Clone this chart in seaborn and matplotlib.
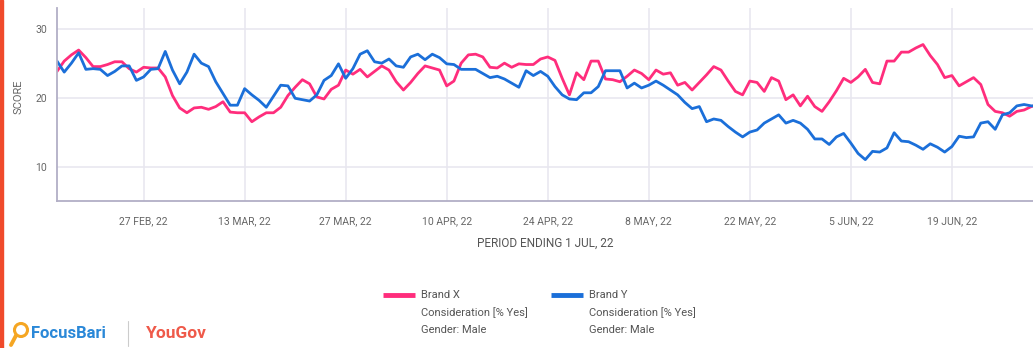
import matplotlib
matplotlib.use("Agg")
import matplotlib.pyplot as plt
import matplotlib.dates as mdates
from matplotlib.lines import Line2D
from matplotlib.patches import Rectangle, Ellipse
import numpy as np
import pandas as pd
import seaborn as sns

# ---------------- data ----------------
start_date = "2022-02-15"
brand_x = [23.8, 25.3, 26.2, 26.9, 25.8, 24.5, 24.5, 24.8, 25.2, 25.2, 24.2, 23.7,
           24.4, 24.3, 24.3, 23.0, 20.3, 18.5, 17.8, 18.5, 18.6, 18.3, 18.7, 19.4,
           17.9, 17.8, 17.8, 16.5, 17.2, 17.8, 17.8, 18.6, 20.3, 21.5, 22.6, 22.0,
           20.1, 19.8, 21.2, 21.8, 24.0, 23.4, 24.1, 23.0, 23.8, 24.6, 24.0, 22.3,
           21.1, 22.2, 23.5, 24.6, 24.3, 24.0, 21.7, 22.4, 25.0, 26.2, 26.3, 25.9,
           24.4, 24.3, 25.0, 24.4, 24.9, 24.8, 24.8, 25.6, 25.9, 25.4, 22.8, 20.4,
           23.6, 22.6, 25.3, 25.3, 22.7, 22.6, 22.3, 23.1, 24.0, 23.5, 22.6, 24.0,
           23.4, 23.6, 21.8, 22.2, 21.1, 22.2, 23.3, 24.5, 24.0, 22.4, 20.9, 20.4,
           22.4, 22.2, 20.9, 22.9, 22.4, 19.7, 20.4, 18.8, 20.2, 18.7, 18.0, 19.4,
           21.0, 22.8, 22.2, 23.0, 24.1, 22.2, 22.0, 25.3, 25.3, 26.6, 26.6, 27.2,
           27.7, 26.1, 24.8, 22.9, 23.2, 21.7, 22.3, 22.9, 21.9, 19.0, 18.0, 17.8,
           17.3, 18.0, 18.2, 18.7, 19.0]
brand_y = [25.3, 23.7, 25.0, 26.5, 24.1, 24.2, 24.1, 23.2, 23.8, 24.6, 24.6, 22.5,
           23.0, 24.1, 24.2, 26.7, 24.0, 22.0, 23.7, 26.3, 25.0, 24.5, 22.3, 20.6,
           18.9, 18.9, 21.3, 20.4, 19.6, 18.6, 20.2, 21.8, 21.7, 19.9, 19.7, 19.5,
           20.4, 22.5, 23.2, 24.9, 22.8, 24.2, 26.3, 26.8, 25.2, 25.0, 25.6, 24.6,
           24.4, 25.9, 26.3, 25.5, 26.3, 25.8, 24.9, 24.8, 24.1, 24.1, 24.1, 23.5,
           22.9, 23.1, 22.7, 22.1, 21.5, 23.9, 23.2, 23.8, 23.1, 21.6, 20.4, 19.8,
           19.7, 20.7, 20.7, 21.6, 23.9, 23.9, 23.9, 21.4, 22.1, 21.4, 21.8, 22.4,
           21.8, 21.1, 20.4, 19.3, 18.4, 18.7, 16.5, 16.9, 16.7, 15.8, 15.0, 14.3,
           15.0, 15.3, 16.3, 16.9, 17.5, 16.3, 16.7, 16.3, 15.4, 14.0, 14.0, 13.2,
           14.3, 14.8, 13.4, 11.9, 11.0, 12.2, 12.1, 12.7, 14.9, 13.7, 13.6, 13.1,
           12.5, 13.3, 12.8, 12.1, 12.9, 14.4, 14.2, 14.3, 16.3, 16.5, 15.4, 17.5,
           17.8, 18.8, 19.0, 18.8, 18.8]
series_names = ["Brand X", "Brand Y"]
series_colors = ["#FF2D7C", "#1B6FD9"]
legend_sub = ["Consideration [% Yes]", "Gender: Male"]
tick_dates = ["2022-02-27", "2022-03-13", "2022-03-27", "2022-04-10", "2022-04-24",
              "2022-05-08", "2022-05-22", "2022-06-05", "2022-06-19"]
y_ticks = [10, 20, 30]
x_title = "PERIOD ENDING 1 JUL, 22"
y_title = "SCORE"

dates = pd.date_range(start_date, periods=len(brand_x), freq="D")
df = pd.DataFrame({
    "date": np.concatenate([dates, dates]),
    "score": brand_x + brand_y,
    "brand": [series_names[0]] * len(brand_x) + [series_names[1]] * len(brand_y),
})

# ---------------- style ----------------
sns.set_theme(style="white")
plt.rcParams["font.family"] = ["Roboto", "DejaVu Sans"]

W, H = 1033, 348
fig = plt.figure(figsize=(W / 100, H / 100), dpi=100)
fig.patch.set_facecolor("white")
ax = fig.add_axes([57 / W, 147 / H, 981.5 / W, 193 / H])

sns.lineplot(data=df, x="date", y="score", hue="brand", palette=series_colors,
             hue_order=series_names, linewidth=2.0, legend=False, ax=ax,
             estimator=None)

ax.set_xlim(dates[0], dates[-1])
ax.set_ylim(5, 33)
ax.set_yticks(y_ticks)
ax.set_xticks(pd.to_datetime(tick_dates))
ax.xaxis.set_major_formatter(
    matplotlib.ticker.FuncFormatter(
        lambda v, p: (lambda d: f"{d.day} {d.strftime('%b').upper()}, {d.strftime('%y')}")(mdates.num2date(v))))

grid_c = "#E7E6EF"
ax.grid(True, color=grid_c, linewidth=1.1)
ax.set_axisbelow(True)
for s in ["top", "right"]:
    ax.spines[s].set_visible(False)
for s in ["left", "bottom"]:
    ax.spines[s].set_color("#B2AFC6")
    ax.spines[s].set_linewidth(1.3)
ax.tick_params(axis="both", which="major", length=4, width=1, color="#B2AFC6",
               labelsize=7.5, labelcolor="#666666", pad=7)
ax.tick_params(axis="y", pad=3)

ax.set_xlabel(x_title, fontsize=8.5, color="#555555")
ax.xaxis.set_label_coords((545 - 57) / 981.5, (201 - 243) / 193)
ax.xaxis.label.set_verticalalignment("center")
ax.set_ylabel(y_title, fontsize=8, color="#666666")
ax.yaxis.set_label_coords((18 - 57) / 981.5, (201 - 97) / 193)
ax.yaxis.label.set_verticalalignment("center")

# ---------------- legend (manual, below plot) ----------------
def fx(px):
    return px / W

def fy(py):
    return 1 - py / H

for i, (name, col) in enumerate(zip(series_names, series_colors)):
    x0 = 383 + i * 168
    fig.add_artist(Line2D([fx(x0), fx(x0 + 32)], [fy(295), fy(295)],
                          color=col, linewidth=3.5, solid_capstyle="butt"))
    fig.text(fx(x0 + 38), fy(295), name, fontsize=8, color="#555555", va="center",
             ha="left")
    for j, sub in enumerate(legend_sub):
        fig.text(fx(x0 + 38), fy(313 + j * 17), sub, fontsize=8, color="#555555",
                 va="center", ha="left")

# ---------------- logos ----------------
fig.patches.append(Rectangle((0, 0), 2.5 / W, 1, transform=fig.transFigure,
                             color="#F04A2B", zorder=10))
# magnifier icon
r = 6.5
fig.patches.append(Ellipse((fx(21), fy(330)), 2 * r / W, 2 * r / H,
                           transform=fig.transFigure, fill=False,
                           edgecolor="#F5A623", linewidth=2.2))
fig.add_artist(Line2D([fx(16), fx(11)], [fy(335.5), fy(345)], color="#F5A623",
                      linewidth=2.8, solid_capstyle="round"))
fig.text(fx(31), fy(334), "FocusBari", fontsize=12, fontweight="bold",
         color="#2A88D8", va="center", ha="left")
fig.add_artist(Line2D([fx(128), fx(128)], [fy(321), fy(346)], color="#CCCCCC",
                      linewidth=0.8))
fig.text(fx(146), fy(334), "YouGov", fontsize=12.5, fontweight="bold",
         color="#EF5A4A", va="center", ha="left")

fig.savefig("out.png", dpi=100, facecolor="white")
